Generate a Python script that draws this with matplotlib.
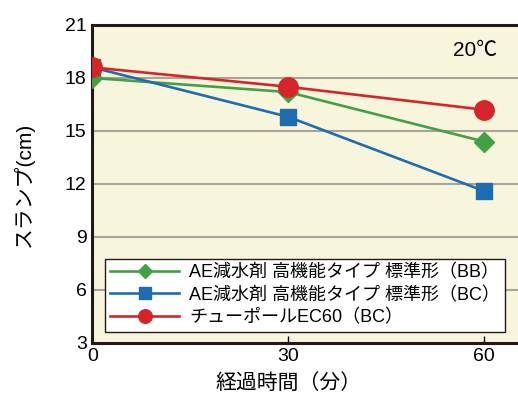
import matplotlib
matplotlib.use("Agg")
import matplotlib.pyplot as plt

plt.rcParams['font.family'] = ['Liberation Sans', 'Noto Sans CJK JP', 'DejaVu Sans']

# データ
jikan = [0, 30, 60]
bb = [18.0, 17.2, 14.4]
bc = [18.6, 15.8, 11.6]
ec60 = [18.6, 17.5, 16.2]
nombres = ["AE減水剤 高機能タイプ 標準形（BB）",
           "AE減水剤 高機能タイプ 標準形（BC）",
           "チューポールEC60（BC）"]
yticks = [3, 6, 9, 12, 15, 18, 21]
xticks = [0, 30, 60]

fig = plt.figure(figsize=(5.18, 3.96), dpi=100)
ax = fig.add_axes([0.178, 0.134, 0.822, 0.803])
ax.set_facecolor('#f7f6dc')

ax.plot(jikan, bb, color='#43a047', lw=1.9, marker='D', ms=10, label=nombres[0], zorder=3)
ax.plot(jikan, bc, color='#1f6db0', lw=1.9, marker='s', ms=12, label=nombres[1], zorder=3)
ax.plot(jikan, ec60, color='#d7242a', lw=1.9, marker='o', ms=14, label=nombres[2], zorder=4)

ax.set_xlim(0, 65.2)
ax.set_ylim(3, 21)
ax.set_yticks(yticks)
ax.set_xticks(xticks)
ax.grid(axis='y', color='#a8a49a', lw=1.5)
ax.set_axisbelow(True)
ax.tick_params(axis='y', length=0, labelsize=14, pad=4)
ax.tick_params(axis='x', direction='in', length=5, width=1, labelsize=14, pad=4)
for s in ['left', 'bottom', 'top']:
    ax.spines[s].set_linewidth(2.2)
    ax.spines[s].set_color('#231815')
ax.spines['right'].set_visible(False)

ax.set_ylabel("スランプ(cm)", fontsize=15, labelpad=22)
ax.set_xlabel("経過時間（分）", fontsize=15)
ax.xaxis.set_label_coords(30 / 65.2, -0.095)
ax.text(0.90, 0.92, "20℃", transform=ax.transAxes, fontsize=15, ha='center', va='center')

leg = ax.legend(loc='lower left', bbox_to_anchor=(0.03, 0.035), fontsize=13, markerscale=0.7,
                frameon=True, fancybox=False, edgecolor='#231815', framealpha=1,
                handlelength=3.8, labelspacing=0.3, borderpad=0.3, handletextpad=0.55,
                borderaxespad=0)
leg.get_frame().set_linewidth(1.0)

fig.savefig('out.png', dpi=100)
